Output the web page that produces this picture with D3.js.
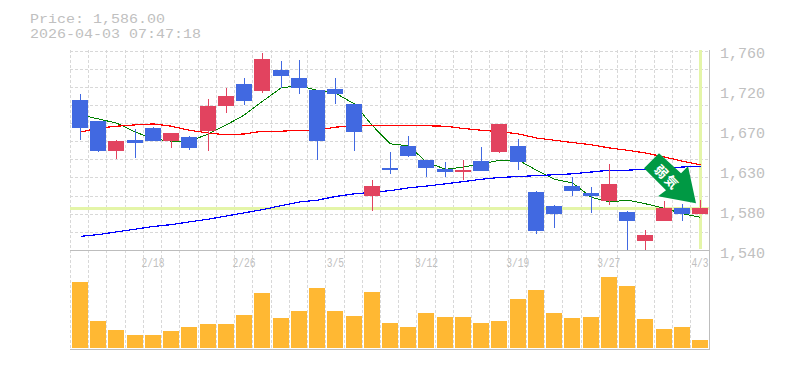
<!DOCTYPE html>
<html>
<head>
<meta charset="utf-8">
<script src="https://cdn.jsdelivr.net/npm/d3@7"></script>
<style>
  body { margin: 0; background: #fff; }
  text { font-family: "Liberation Mono", monospace; fill: #c0c0c0; }
</style>
</head>
<body>
<svg id="chart"></svg>
<script>
const width = 785;
const height = 370;

const dates = ["2/12","2/13","2/16","2/17","2/18","2/19","2/20","2/24","2/25","2/26","2/27","3/2","3/3","3/4","3/5","3/6","3/9","3/10","3/11","3/12","3/13","3/16","3/17","3/18","3/19","3/23","3/24","3/25","3/26","3/27","3/30","3/31","4/1","4/2","4/3"];
const opens = [1705,1682,1649,1661,1674.5,1660,1664.5,1671,1699,1723,1715,1738.5,1730,1716,1717.5,1701,1599.5,1630.5,1655,1639,1629,1626,1638,1648,1655,1604,1588.5,1610.5,1603,1594,1582,1550,1572,1586,1580];
const closes = [1674.5,1649.5,1660,1658,1660,1669,1652.5,1699,1710,1704,1751,1732,1719,1660,1712,1670,1610.5,1628,1643.5,1630.5,1626,1628,1627,1679,1637,1561,1580,1605,1599.5,1613,1572,1556.5,1586,1580,1586];
const highs = [1712,1682,1661,1673,1676,1669,1666,1706.5,1719,1730,1757,1748,1749.5,1716,1730,1701,1617,1648,1666,1639,1637,1639,1653.5,1679,1662,1605,1589.5,1620.5,1609.5,1635,1583,1562,1594,1591,1595];
const lows = [1661,1648,1640,1641.5,1660,1652.5,1650,1649,1691,1700,1713,1719,1712,1639,1701,1649,1583,1624,1642.5,1620.5,1620.5,1617,1627,1647,1628,1557.5,1564,1599.5,1581,1589.5,1540,1539.5,1572,1572,1580];
const maShort = [1689,1684.5,1680,1670,1662.5,1660,1660,1668,1678,1689,1704,1719,1721,1716,1713,1701,1677,1657,1655,1637,1629,1631.5,1635,1639,1639,1628,1618,1614,1598,1593,1595,1591,1586,1580,1576];
const maMid = [1670,1674.5,1676.5,1678,1679,1676.5,1672,1669,1667,1668,1671,1671,1672,1672,1675.5,1677,1677,1677,1677,1677,1676.5,1674,1672,1670.5,1668,1663.5,1661,1658.5,1656,1652.5,1650,1647,1642.5,1638,1634];
const maLong = [1555,1557,1560,1563,1566,1568,1571,1574,1577.5,1581,1584.5,1589,1593,1595,1599,1602,1603.5,1605.5,1608.5,1610.5,1613,1615.5,1618,1620,1621,1622,1623,1624,1626,1628,1628,1629,1630.5,1631.5,1632.5];
const volumes = [66,27,18,13,13,17,21,24,24,33,55,30,37,60,37,32,56,25,21,35,31,31,25,27,49,58,35,30,31,71,62,29,19,21,8];

const priceTicks = [1760,1716,1672,1628,1584,1540];
const priceLabels = ["1,760","1,720","1,670","1,630","1,580","1,540"];
const dateTicks = ["2/18","2/26","3/5","3/12","3/19","3/27","4/3"];
const headerLines = ["Price: 1,586.00", "2026-04-03 07:47:18"];
const lastPrice = 1586;

const upColor = "#e2435f";
const downColor = "#4169e1";

const svg = d3.select("#chart")
    .attr("width", width)
    .attr("height", height)
    .attr("viewBox", `0 0 ${width} ${height}`);

// candle slots, 16px wide with about 2px between them
const x = d3.scaleBand().domain(d3.range(dates.length)).range([72, 708]).paddingInner(0.1226);
const left = i => Math.round(x(i));
const y = d3.scaleLinear().domain([1540, 1760]).range([250, 50.5]);
const yVol = d3.scaleLinear().domain([0, d3.max(volumes)]).range([348, 277]);
const xDate = d3.scaleBand().domain(dates).range([72, 708]).paddingInner(0.1226);

const plotLeft = 70, plotRight = 709, plotTop = 50, plotBottom = 250, volBottom = 349;

// grid
const grid = svg.append("g")
    .attr("stroke", "#d8d8d8")
    .attr("stroke-dasharray", "3,2")
    .attr("shape-rendering", "crispEdges");

grid.selectAll(".h")
    .data(d3.range(1, 12).map(k => 1540 + k * 20))
    .enter().append("line")
    .attr("x1", plotLeft).attr("x2", plotRight)
    .attr("y1", d => Math.round(y(d)) + 0.5).attr("y2", d => Math.round(y(d)) + 0.5);

grid.selectAll(".v")
    .data(d3.range(dates.length))
    .enter().append("line")
    .attr("x1", d => left(d) - 1.5).attr("x2", d => left(d) - 1.5)
    .attr("y1", plotTop).attr("y2", volBottom);

// last price highlight
svg.append("rect")
    .attr("x", plotLeft).attr("width", plotRight - plotLeft)
    .attr("y", Math.round(y(lastPrice)) - 1).attr("height", 3)
    .attr("fill", "#e4f5a8");
svg.append("rect")
    .attr("x", left(dates.length - 1) + 7).attr("width", 3)
    .attr("y", plotTop).attr("height", 199)
    .attr("fill", "#e4f5a8");

// moving averages
const maLine = d3.line().x((d, i) => left(i) + 8.5).y(d => y(d));
[[maShort, "#008000", 1], [maMid, "#ff0000", 1.2], [maLong, "#0000ff", 1.2]].forEach(([values, color, sw]) => {
    svg.append("path")
        .attr("d", maLine(values))
        .attr("fill", "none")
        .attr("stroke", color)
        .attr("stroke-width", sw)
        .attr("shape-rendering", "crispEdges");
});

// candles
const candles = svg.append("g").attr("shape-rendering", "crispEdges");
candles.selectAll("line")
    .data(d3.range(dates.length))
    .enter().append("line")
    .attr("x1", d => left(d) + 8.5).attr("x2", d => left(d) + 8.5)
    .attr("y1", d => Math.round(y(highs[d])))
    .attr("y2", d => Math.round(y(lows[d])))
    .attr("stroke", d => closes[d] >= opens[d] ? upColor : downColor);
candles.selectAll("rect")
    .data(d3.range(dates.length))
    .enter().append("rect")
    .attr("x", d => left(d))
    .attr("width", 16)
    .attr("y", d => Math.round(y(Math.max(opens[d], closes[d]))))
    .attr("height", d => Math.max(1, Math.round(y(Math.min(opens[d], closes[d]))) - Math.round(y(Math.max(opens[d], closes[d])))))
    .attr("fill", d => closes[d] >= opens[d] ? upColor : downColor);

// volume
svg.append("g").attr("shape-rendering", "crispEdges")
    .selectAll("rect")
    .data(volumes)
    .enter().append("rect")
    .attr("x", (d, i) => left(i))
    .attr("width", 16)
    .attr("y", d => Math.round(yVol(d)))
    .attr("height", d => 348 - Math.round(yVol(d)))
    .attr("fill", "#ffb833");

// frame lines
const frame = svg.append("g").attr("stroke", "#bdbdbd").attr("shape-rendering", "crispEdges");
frame.append("line").attr("x1", plotLeft).attr("x2", plotRight + 1).attr("y1", plotBottom + 0.5).attr("y2", plotBottom + 0.5);
frame.append("line").attr("x1", plotLeft).attr("x2", plotRight + 1).attr("y1", volBottom + 0.5).attr("y2", volBottom + 0.5);
frame.append("line").attr("x1", plotRight + 0.5).attr("x2", plotRight + 0.5).attr("y1", plotTop).attr("y2", volBottom + 1);

// axes
const xAxis = svg.append("g")
    .attr("transform", `translate(0,${plotBottom})`)
    .call(d3.axisBottom(xDate).tickValues(dateTicks).tickSize(0).tickPadding(0));
xAxis.select(".domain").remove();
xAxis.selectAll("text")
    .attr("y", 17).attr("dy", 0)
    .style("font-size", "13.5px")
    .attr("textLength", d => d.length * 5.75)
    .attr("lengthAdjust", "spacingAndGlyphs");

const yAxis = svg.append("g")
    .attr("transform", `translate(${plotRight},0)`)
    .call(d3.axisRight(y).tickValues(priceTicks).tickSize(0).tickPadding(0)
        .tickFormat((d, i) => priceLabels[i]));
yAxis.select(".domain").remove();
yAxis.selectAll("text")
    .attr("x", 11).attr("dy", 7)
    .style("font-size", "15px");

// header, slightly smaller type stretched to the original width so the lines stay clear of each other
svg.selectAll(".header")
    .data(headerLines)
    .enter().append("text")
    .attr("class", "header")
    .attr("x", 30)
    .attr("y", (d, i) => 23 + i * 15)
    .attr("textLength", d => d.length * 9)
    .attr("lengthAdjust", "spacingAndGlyphs")
    .style("font-size", "13px")
    .text(d => d);

// signal arrow, tip sits just above the last candle
const arrow = svg.append("g")
    .attr("transform", `translate(${left(dates.length - 1) + 4},${y(1591.5)})`);
arrow.append("polygon")
    .attr("points", "-37,-50 -15,-30 -8,-37 0,0 -38,-7 -30,-13 -52,-35")
    .attr("fill", "#009944");
arrow.append("text")
    .attr("transform", "translate(-29,-26) rotate(45)")
    .attr("text-anchor", "middle")
    .attr("dy", 5)
    .style("font-family", '"Noto Sans CJK JP"')
    .style("font-weight", "700")
    .style("font-size", "13px")
    .style("letter-spacing", "1.5px")
    .style("fill", "#fff")
    .text("弱気");
</script>
</body>
</html>
